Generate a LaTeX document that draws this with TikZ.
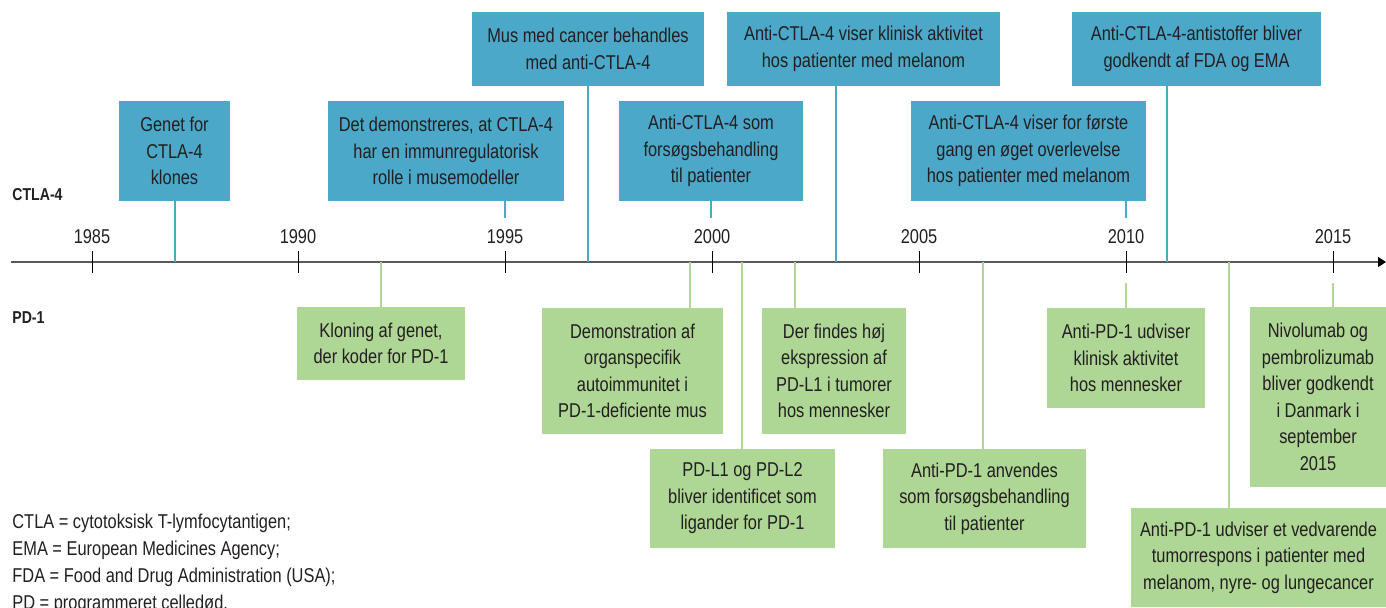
\documentclass[tikz,border=0pt]{standalone}
\usepackage{fontspec}
\setmainfont{Liberation Sans}[FakeStretch=0.82]
\usetikzlibrary{arrows.meta}

\definecolor{tlCtla}{RGB}{75,168,200}
\definecolor{tlPd}{RGB}{174,214,149}
\definecolor{tlInk}{RGB}{35,31,32}
\definecolor{tlAxis}{RGB}{90,90,90}

\begin{document}
\begin{tikzpicture}[x=0.5pt, y=-0.5pt,
  font=\fontsize{10}{13.25}\selectfont, text=tlInk,
  ctlabox/.style={fill=tlCtla, align=center, inner sep=0pt},
  pdbox/.style={fill=tlPd, align=center, inner sep=0pt},
  ctlaline/.style={tlCtla, line width=1.25pt},
  pdline/.style={tlPd, line width=1.25pt},
  plain/.style={inner sep=0pt}]
\useasboundingbox (0,0) rectangle (1386,607);

%% time axis
\coordinate (axstart) at (11,262);
\coordinate (axend) at (1386,262);
\draw[tlAxis, line width=0.75pt, -{Triangle[length=4pt, width=5pt, black]}] (axstart) -- (axend);
\foreach \yr/\xx in {1985/92, 1990/298, 1995/505, 2000/712, 2005/919, 2010/1126, 2015/1333} {
  \draw[black, line width=0.5pt] (\xx,251) -- (\xx,273);
  \node[plain, anchor=base] (yr\yr) at (\xx,243) {\yr};
}

%% row labels
\node[plain, anchor=base west, font=\fontsize{8.6}{10}\selectfont\bfseries] (ctlalabel) at (12,200) {CTLA-4};
\node[plain, anchor=base west, font=\fontsize{8.6}{10}\selectfont\bfseries] (pdlabel) at (12,323) {PD-1};

%% event points on the axis
\coordinate (e1987) at (175,262);
\coordinate (e1997) at (588,262);
\coordinate (e2003) at (836,262);
\coordinate (e2011) at (1167,262);
\coordinate (e1992) at (381,262);
\coordinate (e1999) at (690,262);
\coordinate (e2000) at (742,262);
\coordinate (e2002) at (795,262);
\coordinate (e2006) at (983,262);
\coordinate (e2012) at (1229,262);
\coordinate (s1995) at (505,218);
\coordinate (s2000) at (711,218);
\coordinate (s2010) at (1126,218);
\coordinate (p2010) at (1126,283);
\coordinate (p2015) at (1333,283);

%% CTLA-4 above the axis
\node[ctlabox, minimum width=55.5pt, minimum height=50pt] (b1) at (174.5,151)
  {Genet for\\CTLA-4\\klones};
\node[ctlabox, minimum width=118pt, minimum height=50pt] (b2) at (446,151)
  {Det demonstreres, at CTLA-4\\har en immunregulatorisk\\rolle i musemodeller};
\node[ctlabox, minimum width=116pt, minimum height=37pt] (b3) at (588,49)
  {Mus med cancer behandles\\med anti-CTLA-4};
\node[ctlabox, minimum width=92pt, minimum height=50pt] (b4) at (711,151)
  {Anti-CTLA-4 som\\forsøgsbehandling\\til patienter};
\node[ctlabox, minimum width=136.5pt, minimum height=37pt] (b5) at (863.5,49)
  {Anti-CTLA-4 viser klinisk aktivitet\\hos patienter med melanom};
\node[ctlabox, minimum width=117.5pt, minimum height=50pt] (b6) at (1028.5,151)
  {Anti-CTLA-4 viser for første\\gang en øget overlevelse\\hos patienter med melanom};
\node[ctlabox, minimum width=124.5pt, minimum height=37pt] (b7) at (1196.5,49)
  {Anti-CTLA-4-antistoffer bliver\\godkendt af FDA og EMA};

\draw[ctlaline] (b1.south -| e1987) -- (e1987);
\draw[ctlaline] (s1995 |- b2.south) -- (s1995);
\draw[ctlaline] (b3.south -| e1997) -- (e1997);
\draw[ctlaline] (s2000 |- b4.south) -- (s2000);
\draw[ctlaline] (b5.south -| e2003) -- (e2003);
\draw[ctlaline] (s2010 |- b6.south) -- (s2010);
\draw[ctlaline] (b7.south -| e2011) -- (e2011);

%% PD-1 below the axis
\node[pdbox, minimum width=84pt, minimum height=36.5pt] (g1) at (381,343.5)
  {Kloning af genet,\\der koder for PD-1};
\node[pdbox, minimum width=90.5pt, minimum height=63pt] (g2) at (632.5,371)
  {Demonstration af\\organspecifik\\autoimmunitet i\\PD-1-deficiente mus};
\node[pdbox, minimum width=92.5pt, minimum height=49.5pt] (g3) at (742.5,498.5)
  {PD-L1 og PD-L2\\bliver identificet som\\ligander for PD-1};
\node[pdbox, minimum width=72pt, minimum height=63pt] (g4) at (834,371)
  {Der findes høj\\ekspression af\\PD-L1 i tumorer\\hos mennesker};
\node[pdbox, minimum width=101.5pt, minimum height=49.5pt] (g5) at (984.5,498.5)
  {Anti-PD-1 anvendes\\som forsøgsbehandling\\til patienter};
\node[pdbox, minimum width=79pt, minimum height=50pt] (g6) at (1126,358)
  {Anti-PD-1 udviser\\klinisk aktivitet\\hos mennesker};
\node[pdbox, minimum width=68pt, minimum height=90pt] (g7) at (1318,397)
  {Nivolumab og\\pembrolizumab\\bliver godkendt\\i Danmark i\\september\\2015};
\node[pdbox, minimum width=127.5pt, minimum height=49.5pt] (g8) at (1258.5,557.5)
  {Anti-PD-1 udviser et vedvarende\\tumorrespons i patienter med\\melanom, nyre- og lungecancer};

\draw[pdline] (e1992) -- (g1.north -| e1992);
\draw[pdline] (e1999) -- (g2.north -| e1999);
\draw[pdline] (e2000) -- (g3.north -| e2000);
\draw[pdline] (e2002) -- (g4.north -| e2002);
\draw[pdline] (e2006) -- (g5.north -| e2006);
\draw[pdline] (p2010) -- (g6.north -| p2010);
\draw[pdline] (p2015) -- (g7.north -| p2015);
\draw[pdline] (e2012) -- (g8.north -| e2012);

%% abbreviations
\node[plain, anchor=base west] (abbr1) at (12,528) {CTLA = cytotoksisk T-lymfocytantigen;};
\node[plain, anchor=base west] (abbr2) at (12,555) {EMA = European Medicines Agency;};
\node[plain, anchor=base west] (abbr3) at (12,582) {FDA = Food and Drug Administration (USA);};
\node[plain, anchor=base west] (abbr4) at (12,609) {PD = programmeret celledød.};
\end{tikzpicture}
\end{document}
